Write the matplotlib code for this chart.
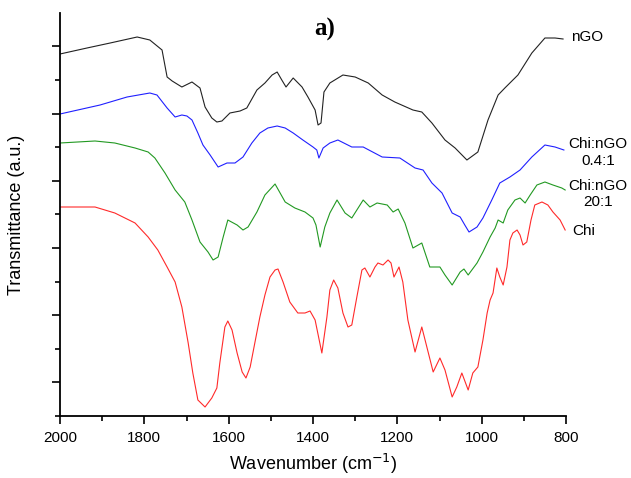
import numpy as np
import matplotlib
matplotlib.use('Agg')
import matplotlib.pyplot as plt
from matplotlib.ticker import FixedLocator

plt.rcParams['font.family'] = ['Liberation Sans', 'DejaVu Sans']

# FTIR spectra (wavenumber in cm-1, transmittance in a.u.)
ngo_wn = [2000, 1936, 1881, 1817, 1787, 1758, 1746, 1734, 1711, 1687, 1668, 1656,
          1640, 1628, 1616, 1597, 1573, 1557, 1549, 1533, 1514, 1497, 1485, 1474,
          1464, 1447, 1426, 1412, 1395, 1388, 1381, 1374, 1360, 1329, 1300, 1269,
          1236, 1206, 1163, 1142, 1118, 1087, 1063, 1035, 1009, 985, 961, 945,
          914, 881, 850, 826, 807]
ngo_t = [362, 368, 373, 379, 376, 366, 339, 335, 329, 334, 328, 309,
         298, 294, 295, 303, 305, 308, 314, 326, 333, 341, 344, 336,
         329, 338, 329, 319, 306, 291, 293, 324, 333, 341, 339, 333,
         321, 314, 306, 304, 293, 276, 268, 256, 264, 296, 321, 328,
         341, 363, 378, 378, 377]

mix04_wn = [2000, 1905, 1841, 1787, 1770, 1746, 1727, 1711, 1699, 1687, 1673, 1661,
            1644, 1625, 1604, 1585, 1566, 1545, 1526, 1507, 1485, 1466, 1447, 1424,
            1400, 1391, 1386, 1376, 1360, 1341, 1308, 1281, 1236, 1194, 1158, 1139,
            1118, 1094, 1070, 1051, 1040, 1030, 1011, 997, 976, 957, 933, 909,
            881, 850, 826, 805]
mix04_t = [302, 311, 319, 323, 321, 308, 299, 301, 300, 296, 283, 271,
           261, 249, 253, 253, 259, 273, 283, 288, 290, 288, 283, 276,
           269, 266, 258, 268, 273, 276, 269, 269, 259, 258, 248, 246,
           233, 223, 203, 199, 191, 184, 189, 198, 216, 233, 239, 246,
           259, 271, 269, 266]

mix20_wn = [2000, 1917, 1870, 1822, 1791, 1775, 1751, 1727, 1704, 1687, 1668, 1649,
            1637, 1625, 1613, 1602, 1580, 1566, 1554, 1533, 1514, 1490, 1466, 1443,
            1419, 1400, 1393, 1383, 1372, 1360, 1343, 1324, 1308, 1281, 1265, 1248,
            1224, 1210, 1198, 1182, 1163, 1142, 1123, 1099, 1087, 1070, 1051, 1042,
            1032, 1011, 997, 980, 968, 961, 949, 938, 921, 909, 897, 885,
            869, 850, 831, 810, 802]
mix20_t = [273, 275, 273, 268, 264, 258, 243, 226, 214, 196, 174, 164,
           156, 159, 179, 196, 191, 186, 189, 204, 221, 232, 214, 208,
           204, 198, 191, 169, 189, 203, 216, 203, 198, 216, 209, 213,
           211, 204, 207, 193, 168, 173, 149, 149, 141, 131, 144, 147,
           141, 153, 164, 179, 188, 196, 193, 206, 216, 218, 213, 221,
           231, 234, 231, 228, 226]

chi_wn = [2000, 1917, 1870, 1822, 1791, 1768, 1746, 1727, 1711, 1696, 1685, 1673,
          1656, 1640, 1628, 1621, 1609, 1602, 1592, 1580, 1568, 1559, 1549, 1538,
          1526, 1514, 1502, 1490, 1483, 1471, 1455, 1436, 1419, 1407, 1395, 1379,
          1367, 1360, 1351, 1341, 1329, 1317, 1308, 1296, 1284, 1277, 1265, 1253,
          1246, 1234, 1222, 1215, 1208, 1196, 1187, 1175, 1158, 1142, 1130, 1115,
          1099, 1087, 1070, 1059, 1047, 1032, 1021, 1009, 997, 987, 980, 973,
          964, 957, 949, 940, 933, 926, 916, 909, 902, 893, 883, 874,
          857, 843, 831, 814, 802]
chi_t = [209, 209, 203, 193, 179, 166, 149, 134, 109, 73, 43, 16,
         9, 18, 28, 53, 89, 95, 86, 63, 44, 38, 49, 73,
         99, 121, 139, 146, 147, 134, 114, 103, 103, 105, 96, 63,
         99, 126, 136, 128, 103, 89, 91, 119, 146, 148, 139, 149,
         153, 151, 156, 153, 139, 149, 134, 96, 64, 89, 69, 44,
         58, 46, 19, 29, 43, 26, 43, 49, 76, 103, 116, 123,
         148, 139, 131, 149, 176, 183, 186, 181, 171, 174, 196, 211,
         214, 211, 204, 196, 186]

fig = plt.figure(figsize=(6.31, 4.78), dpi=100)
ax = fig.add_axes([60 / 631, 62 / 478, 506 / 631, 403 / 478])

ax.plot(ngo_wn, ngo_t, color='#222222', lw=0.8)
ax.plot(mix04_wn, mix04_t, color='#2020ff', lw=0.8)
ax.plot(mix20_wn, mix20_t, color='#229922', lw=0.8)
ax.plot(chi_wn, chi_t, color='#ff2a2a', lw=0.8)

ax.set_xlim(2000, 800)
ax.set_ylim(0, 403)
ax.set_xticks([2000, 1800, 1600, 1400, 1200, 1000, 800])
ax.xaxis.set_minor_locator(FixedLocator([1900, 1700, 1500, 1300, 1100, 900]))
ax.yaxis.set_major_locator(FixedLocator(np.arange(33.6, 403, 67.2)))
ax.yaxis.set_minor_locator(FixedLocator(np.arange(0, 404, 67.2)))
ax.set_yticklabels([])

for s in ['top', 'right']:
    ax.spines[s].set_visible(False)
for s in ['left', 'bottom']:
    ax.spines[s].set_linewidth(1.3)
ax.tick_params(which='major', length=6, width=1.2, labelsize=11, pad=5)
ax.tick_params(which='minor', length=3.5, width=1.2)

ax.set_xlabel('Wavenumber (cm$^{-1}$)', fontsize=13, labelpad=5)
ax.set_ylabel('Transmittance (a.u.)', fontsize=13, labelpad=14)

ax.text(0.524, 0.958, 'a)', transform=ax.transAxes, ha='center', va='center',
        fontsize=18, fontweight='bold', family='Liberation Serif')

ax.text(1.010, 0.940, 'nGO', transform=ax.transAxes, ha='left', va='center', fontsize=11)
ax.text(1.063, 0.653, 'Chi:nGO\n0.4:1', transform=ax.transAxes, ha='center', va='center',
        fontsize=11, linespacing=1.25, multialignment='center')
ax.text(1.063, 0.551, 'Chi:nGO\n20:1', transform=ax.transAxes, ha='center', va='center',
        fontsize=11, linespacing=1.25, multialignment='center')
ax.text(1.012, 0.459, 'Chi', transform=ax.transAxes, ha='left', va='center', fontsize=11)

fig.savefig('out.png', dpi=100)
